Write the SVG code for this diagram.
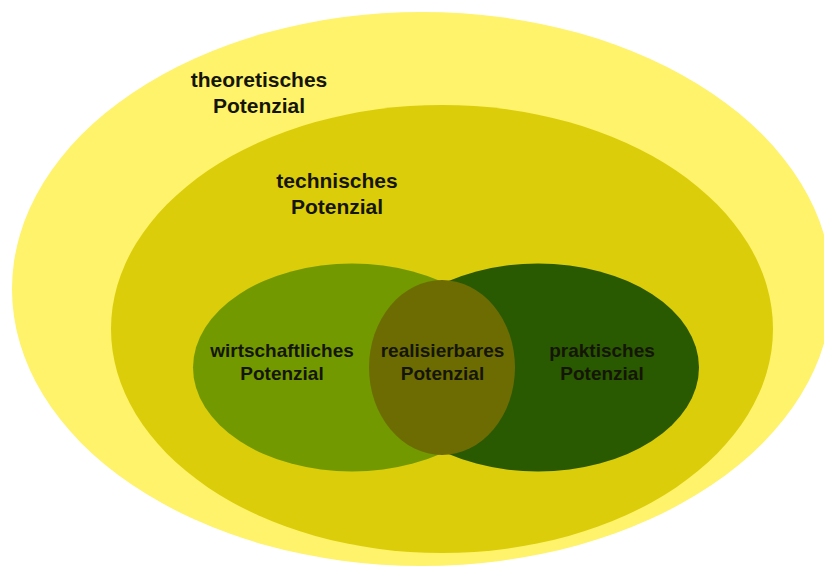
<svg xmlns="http://www.w3.org/2000/svg" width="824" height="567" viewBox="0 0 824 567">
  <style>
    .lbl { font-family: "Liberation Sans", Arial, sans-serif; font-weight: bold; fill: #151505; text-anchor: middle; }
    .big { font-size: 21px; }
    .small { font-size: 19px; }
  </style>
  <rect x="0" y="0" width="824" height="567" fill="#ffffff"/>

  <g id="theoretisch">
    <ellipse cx="422" cy="289" rx="410" ry="277" fill="#fef36a"/>
    <text class="lbl big" x="259" y="87">theoretisches</text>
    <text class="lbl big" x="259" y="113">Potenzial</text>
  </g>

  <g id="technisch">
    <ellipse cx="442" cy="329" rx="331" ry="224" fill="#dccd0a"/>
    <text class="lbl big" x="337" y="188">technisches</text>
    <text class="lbl big" x="337" y="214">Potenzial</text>
  </g>

  <g id="wirtschaftlich">
    <ellipse cx="352" cy="367.5" rx="159" ry="104" fill="#729a00"/>
  </g>

  <g id="praktisch">
    <ellipse cx="538" cy="367.5" rx="161" ry="104" fill="#295900"/>
  </g>

  <g id="realisierbar">
    <ellipse cx="442" cy="367.5" rx="73" ry="87.5" fill="#6d6c03"/>
  </g>

  <g id="labels">
    <text class="lbl small" x="282" y="357">wirtschaftliches</text>
    <text class="lbl small" x="282" y="380">Potenzial</text>
    <text class="lbl small" x="442.5" y="357">realisierbares</text>
    <text class="lbl small" x="442.5" y="380">Potenzial</text>
    <text class="lbl small" x="602" y="357">praktisches</text>
    <text class="lbl small" x="602" y="380">Potenzial</text>
  </g>
</svg>
